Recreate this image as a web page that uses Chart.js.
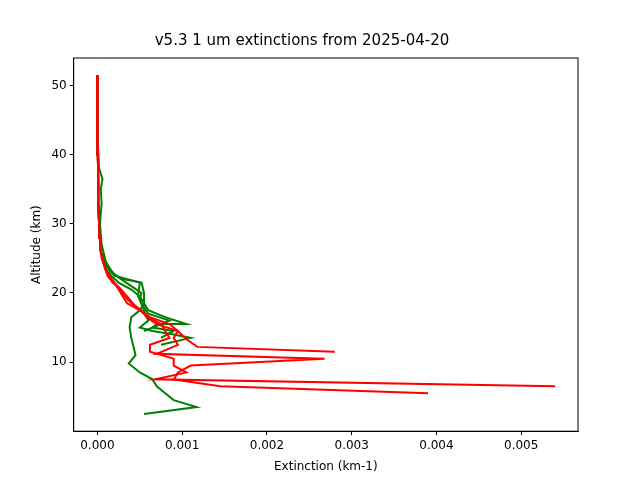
<!DOCTYPE html><html><head><script src="https://cdn.jsdelivr.net/npm/chart.js@4"></script>
<style>body{margin:0;background:#fff}#w{width:640px;height:480px}</style></head><body><div id="w"><canvas id="c"></canvas></div>
<script>
const upper = [[0.00004,26],[0.00003,28],[0.00002,30],[0.00001,33],[0.00001,36],[0.000005,40],[0,45],[0,51.5]];
const redA = [[0.0054,6.5],[0.00068,7.5],[0.00105,8.5],[0.0009,9.5],[0.0009,10.5],[0.00062,11.5],[0.00062,12.5],[0.00085,13.5],[0.0008,14.5],[0.00075,15.5],[0.0006,16.5],[0.0005,17.5],[0.00035,18.5],[0.0003,19.5],[0.00025,20.5],[0.0002,21.5],[0.00014,22.5],[0.0001,23.5],[0.00007,24.5]];
const redB = [[0.0039,5.5],[0.00145,6.5],[0.0009,7.5],[0.00095,8.5],[0.0011,9.5],[0.00268,10.5],[0.0007,11.2],[0.00095,12.5],[0.0009,13.5],[0.00095,14.5],[0.0007,15.5],[0.00058,16.5],[0.00052,17.5],[0.0004,18.5],[0.00032,19.5],[0.00027,20.5],[0.00018,21.5],[0.00012,22.5],[0.00008,24],[0.00005,25]];
const redC = [[0.0028,11.5],[0.00118,12.2],[0.00105,13.3],[0.00095,14.5],[0.00085,15.5],[0.00062,16.5],[0.0005,17.5],[0.00042,18.5],[0.00035,19.5],[0.00028,20.5],[0.0002,21.5],[0.00013,22.5],[0.00009,23.5],[0.00006,25]];
const greenA = [[0.00055,2.5],[0.00117,3.5],[0.0009,4.5],[0.0008,5.5],[0.0007,6.5],[0.00065,7.5],[0.0005,8.5],[0.00037,9.8],[0.00045,11],[0.00042,12.5],[0.0004,13.5],[0.00038,15],[0.0004,16.5],[0.0005,17.5],[0.00055,18.5],[0.0005,19.5],[0.0004,20.5],[0.00025,21.5],[0.00012,23],[0.00006,25]];
const greenB = [[0.00075,12.5],[0.0011,13.5],[0.0009,14],[0.00065,14.5],[0.0005,15],[0.0006,16],[0.00055,17.5],[0.0005,19],[0.00052,20],[0.0004,21],[0.00022,22.5],[0.0001,24],[0.00006,25.5]];
const greenC = [[0.00075,13.5],[0.0009,14.5],[0.00065,15],[0.0007,15.5],[0.00105,15.5],[0.0008,16.5],[0.0006,17.5],[0.00055,18.5],[0.00055,20],[0.00052,21.5],[0.0003,22],[0.00015,23],[0.00008,25]];
const greenD = [[0.00055,14.5],[0.00075,15.5],[0.00085,16],[0.0006,17],[0.00052,18.5],[0.00048,19.5],[0.0005,21.5],[0.0002,22.5],[0.0001,24.5],[0.00005,27],[0.00003,30],[0.00005,33],[0.00004,35],[0.00006,36.5],[0.00002,38],[0.000005,42],[0,46],[0,51.5]];
const ticksX=[0,0.001,0.002,0.003,0.004,0.005], ticksY=[10,20,30,40,50];
const mk=(d,c,withUpper)=>({data:(withUpper?d.concat(upper):d).map(p=>({x:p[0],y:p[1]})),borderColor:c,borderWidth:2,showLine:true,pointRadius:0,fill:false,tension:0});
const grid={drawOnChartArea:false,drawTicks:true,tickLength:4,color:'#000'};
new Chart(document.getElementById('c'),{type:'scatter',data:{datasets:[
mk(redA,'#ff0000',true),mk(redB,'#ff0000',true),mk(redC,'#ff0000',true),
mk(greenA,'#008000',true),mk(greenB,'#008000',true),mk(greenC,'#008000',true),mk(greenD,'#008000',false)]},
options:{responsive:true,maintainAspectRatio:false,animation:false,
layout:{padding:{left:26,right:62,top:10,bottom:2}},
plugins:{legend:{display:false},title:{display:true,text:'v5.3 1 um extinctions from 2025-04-20',color:'#000',font:{family:'DejaVu Sans',size:15,weight:'normal'},padding:{top:22,bottom:8}},tooltip:{enabled:false}},
scales:{x:{min:-0.00028,max:0.00567,grid:grid,border:{color:'#000'},
afterBuildTicks:a=>{a.ticks=ticksX.map(v=>({value:v}))},
ticks:{color:'#000',font:{family:'DejaVu Sans',size:12},callback:v=>v.toFixed(3),maxRotation:0},
title:{display:true,text:'Extinction (km-1)',color:'#000',font:{family:'DejaVu Sans',size:12}}},
y:{min:0,max:54,grid:grid,border:{color:'#000'},
afterBuildTicks:a=>{a.ticks=ticksY.map(v=>({value:v}))},
ticks:{color:'#000',font:{family:'DejaVu Sans',size:12}},
title:{display:true,text:'Altitude (km)',color:'#000',font:{family:'DejaVu Sans',size:12}}}}},
plugins:[{id:'box',afterDraw(c){const a=c.chartArea,x=c.ctx;x.save();x.strokeStyle='#000';x.lineWidth=1;x.strokeRect(a.left,a.top,a.right-a.left,a.bottom-a.top);x.restore();}}]});
</script></body></html>
